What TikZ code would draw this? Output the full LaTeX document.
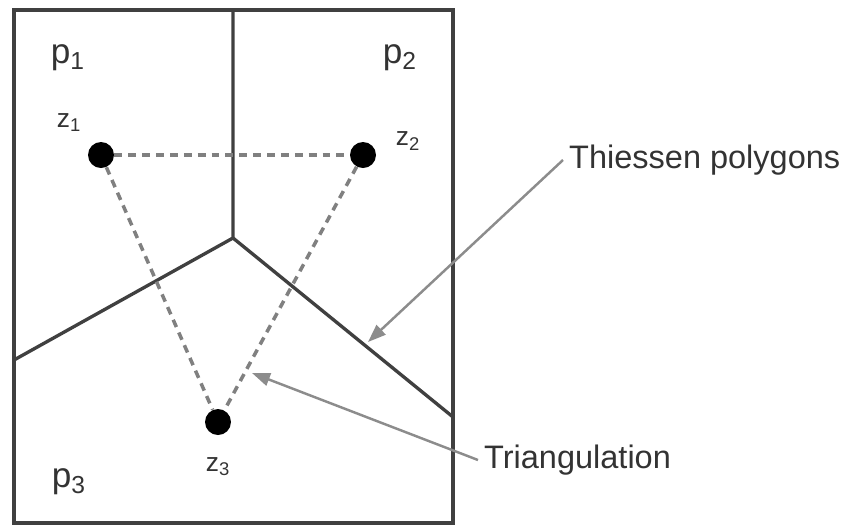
\documentclass[tikz,border=0pt]{standalone}
\usepackage{fontspec}
\setmainfont{Liberation Sans}
\usetikzlibrary{arrows.meta}

\begin{document}
\begin{tikzpicture}[x=0.02cm, y=-0.02cm]
\tikzstyle{site} = [circle, fill=black, minimum size=0.52cm, inner sep=0pt]
\tikzstyle{edge} = [line width=1.9pt, draw=black!75]
\tikzstyle{tri} = [line width=2pt, draw=black!50, dash pattern=on 4.5pt off 3.4pt]
\tikzstyle{callout} = [line width=1.4pt, draw=black!45, -{Triangle[length=0.36cm, width=0.26cm]}]
\tikzstyle{region} = [font=\fontsize{20}{22}\selectfont, text=black!80]
\tikzstyle{sitelabel} = [font=\fontsize{15}{17}\selectfont, text=black!80]
\tikzstyle{note} = [font=\fontsize{18.5}{20}\selectfont, text=black!80, anchor=west]

\useasboundingbox (0,0) rectangle (849,529);

% frame
\draw [line width=2pt, black!75] (14,10) rectangle (453,523);

% polygon edges
\coordinate (v) at (233,238);
\coordinate (top) at (233,10);
\coordinate (left) at (14,360);
\coordinate (right) at (453,417);
\draw [edge] (top) -- (v) -- (left);
\draw [edge] (v) -- (right);

% sites and triangulation
\node (z1) [site] at (101,155) {};
\node (z2) [site] at (363,155) {};
\node (z3) [site] at (218,422) {};
\draw [tri] (z1) -- (z2);
\draw [tri] (z1) -- (z3);
\draw [tri] (z2) -- (z3);

\node (p1) [region] at (68,58) {p\textsubscript{1}};
\node (p2) [region] at (400,58) {p\textsubscript{2}};
\node (p3) [region] at (69,482) {p\textsubscript{3}};
\node (z1lab) [sitelabel] at (69,123) {z\textsubscript{1}};
\node (z2lab) [sitelabel] at (408,141) {z\textsubscript{2}};
\node (z3lab) [sitelabel] at (218,467) {z\textsubscript{3}};

% callouts
\node (thiessen) [note] at (563,160) {Thiessen polygons};
\node (triang) [note] at (478,460) {Triangulation};
\coordinate (hitedge) at (368,342);
\coordinate (hittri) at (252,373);
\draw [callout] (thiessen.west) -- (hitedge);
\draw [callout] (triang.west) -- (hittri);
\end{tikzpicture}
\end{document}
